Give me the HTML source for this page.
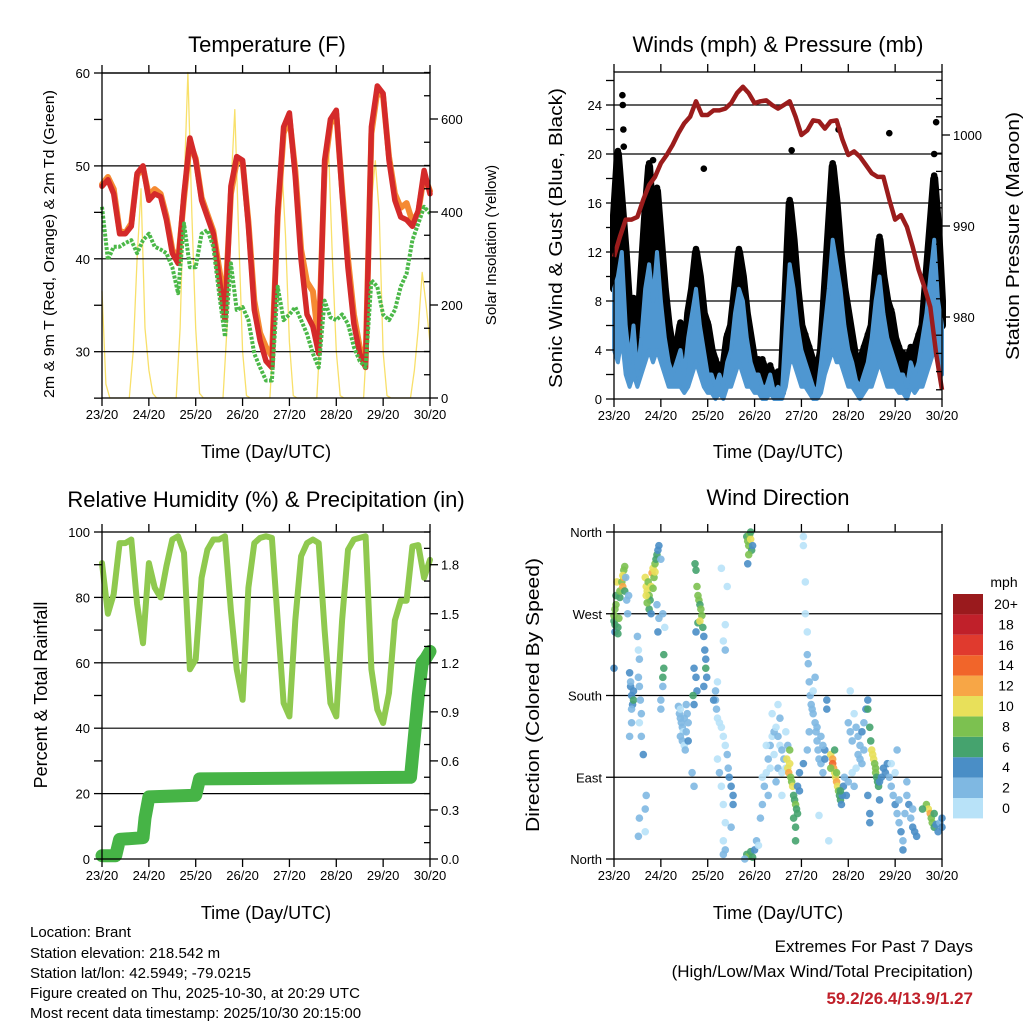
<!DOCTYPE html>
<html><head><meta charset="utf-8"><title>Weather station summary</title>
<style>
html,body{margin:0;padding:0;background:#fff;}
svg{display:block;font-family:"Liberation Sans",sans-serif;}
</style></head>
<body>
<svg id="chart" width="1024" height="1024" viewBox="0 0 1024 1024" xmlns="http://www.w3.org/2000/svg">
<rect x="0" y="0" width="1024" height="1024" fill="#fff"/>
<text x="267" y="52" font-size="22" text-anchor="middle">Temperature (F)</text>
<text x="778" y="52" font-size="22" text-anchor="middle">Winds (mph) &amp; Pressure (mb)</text>
<text x="266" y="507" font-size="22" text-anchor="middle">Relative Humidity (%) &amp; Precipitation (in)</text>
<text x="778" y="505" font-size="22" text-anchor="middle">Wind Direction</text>
<text x="266" y="458" font-size="18" text-anchor="middle">Time (Day/UTC)</text>
<text x="778" y="458" font-size="18" text-anchor="middle">Time (Day/UTC)</text>
<text x="266" y="919" font-size="18" text-anchor="middle">Time (Day/UTC)</text>
<text x="778" y="919" font-size="18" text-anchor="middle">Time (Day/UTC)</text>
<text transform="translate(54,244) rotate(-90)" font-size="14.5" text-anchor="middle" textLength="308" lengthAdjust="spacingAndGlyphs">2m &amp; 9m T (Red, Orange) &amp; 2m Td (Green)</text>
<text transform="translate(496,245) rotate(-90)" font-size="15" text-anchor="middle">Solar Insolation (Yellow)</text>
<text transform="translate(562,238) rotate(-90)" font-size="18" text-anchor="middle" textLength="300" lengthAdjust="spacingAndGlyphs">Sonic Wind &amp; Gust (Blue, Black)</text>
<text transform="translate(1019,236) rotate(-90)" font-size="18" text-anchor="middle" textLength="248" lengthAdjust="spacingAndGlyphs">Station Pressure (Maroon)</text>
<text transform="translate(47,695) rotate(-90)" font-size="18" text-anchor="middle">Percent &amp; Total Rainfall</text>
<text transform="translate(539,695) rotate(-90)" font-size="18" text-anchor="middle" textLength="274" lengthAdjust="spacingAndGlyphs">Direction (Colored By Speed)</text>
<text x="1004" y="587" font-size="14" text-anchor="middle">mph</text>
<g font-size="15">
<text x="30" y="937">Location: Brant</text>
<text x="30" y="958">Station elevation: 218.542 m</text>
<text x="30" y="978">Station lat/lon: 42.5949; -79.0215</text>
<text x="30" y="998">Figure created on Thu, 2025-10-30, at 20:29 UTC</text>
<text x="30" y="1018">Most recent data timestamp: 2025/10/30 20:15:00</text>
</g>
<text x="973" y="952" font-size="17" text-anchor="end">Extremes For Past 7 Days</text>
<text x="973" y="977" font-size="17" text-anchor="end">(High/Low/Max Wind/Total Precipitation)</text>
<text x="973" y="1004" font-size="17" font-weight="bold" fill="#c0202a" text-anchor="end">59.2/26.4/13.9/1.27</text>
</svg>
<script>
// ---------- data ----------
const dayLabels = ["23/20","24/20","25/20","26/20","27/20","28/20","29/20","30/20"];
const redTemp = [47.8,48.5,47,42.7,42.7,43.5,49.2,50,46.3,47,46.7,44.2,40.6,39.5,47,53,50.6,46.3,44.5,42.7,38,33.4,47.8,51,50.6,43.5,34.5,31.2,29,28.3,45.2,54.2,55.7,48.8,39.9,34,32.7,29.8,50.6,55,56,47,39,33,29.8,28.3,54.2,58.6,57.8,50.6,46.3,44.5,44.2,43.5,45.2,49.5,47];
const orangeTemp = [48,48.8,47.5,43,42.8,43.8,49,49.8,46.8,47.5,47,44.6,41,39.8,46.5,52.5,50.8,46.6,44.8,43,39,35,47,50.5,50.4,44,35.5,32,30.5,29.5,44.5,53.5,55.2,49.5,41,37.5,36.5,31,49.8,54.5,55.6,47.5,40,34,30.5,29,53.5,58,57.5,51,47,45.5,46,44,45,49,47.3];
const dewPoint = [45.6,39.9,41.3,41.3,41.7,42,40.6,42,42.7,41.3,41,40.6,39.1,36.3,43.8,39.1,39.1,42.7,43.1,41.3,36.3,31.6,39.5,34.5,34.8,33.4,29.8,28.3,26.9,26.9,37,33.4,34,34.8,33.4,31.9,29.8,28.3,35.5,33.7,33.4,34,33,30.5,29,28.3,37.7,37,34,33.4,34.5,37,38.4,42,43.8,45.6,44.9];
const solar = [230,30,0,0,0,0,0,0,100,300,450,150,60,10,0,0,0,0,0,0,150,450,700,400,150,10,0,0,0,0,0,0,150,450,620,350,100,5,0,0,0,0,0,0,150,400,510,350,120,5,0,0,0,0,0,0,150,420,540,300,100,5,0,0,0,0,0,0,150,420,510,400,100,5,0,0,0,0,0,0,60,150,270,200,120];
const pressure = [986.6,988.8,990.7,990.7,991,992.9,994.5,995.4,996.9,997.8,998.9,1000.2,1001.3,1002,1003.7,1002.2,1002.2,1002.7,1002.7,1002.9,1003.5,1004.6,1005.3,1004.6,1003.5,1003.7,1003.8,1003.3,1002.9,1003.3,1003.7,1002,1000,1000.5,1001.6,1001.5,1000.7,1001.5,1001.6,999.5,997.8,998.2,997.6,996.7,995.8,995.4,995.4,992.9,990.7,991.2,989.9,987.7,985.2,983.3,981.1,976,972];
const wind = [9,10,12,6,3,6,2,5,9,11,8,12,8,5,3,2,3,4,2,5,7,9,6,4,2,2,1,2,1,3,4,7,9,8,5,3,2,2,1,1,2,0.5,1,0.5,6,11,9,6,4,3,2,1,0.5,3,6,9,13,11,9,6,4,3,1.5,1,2,3,5,8,10,7,5,4,3,2,2,1,3,2,3,5,7,10,13,8,6];
const windLow = [4,3,5,2,1,2,1,2,3,4,3,4,3,2,1,1,1,1,0.5,1,2,3,2,1,0.5,0.5,0,0.5,0,1,1,2,3,2,1,1,0.5,0.5,0,0,0.5,0,0,0,1,3,3,2,1,1,0.5,0,0,0.5,2,3,4,3,3,2,1,1,0.5,0,0.5,1,1,2,3,2,1,1,1,0.5,0.5,0,1,0.5,1,1,2,3,4,3,2];
const gust = [15,20,16,12,7,8,5,10,15,19,14,17,13,9,6,4,4,6,3,7,9,12,10,7,6,4,3,2.5,2.5,5,6,9,12,10,7,5,3,3,3,2,2.5,1.5,2,2,9,16,13,9,6,5,4,3,2,4,9,14,19,16,12,9,7,5,3,3,4,5,6,10,13,10,8,7,5,4,3.5,3,4,4,5,6,10,14,18,14,8];
const gustOutlierHours = [4.3,4.5,4.8,5,20,46,91,115,141,165,164];
const gustOutlierValues = [24.8,24,22,20.6,19.5,18.8,20.3,22,21.7,22.6,20];
const humidity = [90.5,75,81,96.6,96.6,97.7,78,66,90.5,83,80,89.5,97.7,98.7,93.6,58,61,86,94.6,97.7,97.7,98.7,76,58,48.7,83,96.6,98.2,98.7,98.2,73,47.7,43.6,73,92.6,96.6,97.7,96.6,70,47.7,43.6,73,94.6,97.7,98.2,98.7,58,45.7,41.6,50.8,73,79,79,95.6,96,86,91.5];
const precipHours = [0,7,9,21,22,24,48,50,158,162,164,166,168];
const precipTotal = [0.02,0.02,0.12,0.13,0.25,0.38,0.39,0.49,0.50,1.0,1.2,1.23,1.27];
const dirHours = [
0,0,0.5,0.5,1,1,1.5,0.5,0,2,
2,2.5,3,3,4,4.5,5,5,4.5,5.5,
5.5,6,6.5,7,7.5,8,8.5,9,9.5,9,
10,10,8.5,9,8,12,12.5,13,12.5,13,
13.5,14,13,14,15,16.5,16,13,12.5,16,
16,16.5,17,17.5,18,18.5,19,19.5,20,20.5,
21,21.5,22,22.5,23,21,20,18,19,17,
16.5,24,22,23,22.5,25,26,25.5,25.5,25,
24,24,25,33,33.5,34,34.5,35,35.5,34,
35,36,37,36,37.5,36.5,38,34,37,38,
40,41,41.5,42,42.5,43,43.5,44,44.5,45,
43,42,44,45.5,46,46.5,47,47,47.5,46,
42,42.5,40.5,41,41,52,52.5,53,54,55,
56,57,58,58.5,59,60,61,61,53,54,
55,56,57,56,57,56,60,51,52,53,
56,57,58,55,57,68,68.5,69,69.5,70,
70.5,69,70,71,68.5,68,69,70,71,72,
73,74,67,75,76,77,78,79,80,81,
82,83,84,85,86,87,88,80,82,84,
86,76,78,81,84,85,88,83,86,89,
79,88.5,89,89.5,90,90.5,91,91.5,92,92.5,
93,93.5,94,92,93,93,90,94,95,95,
98,98,99,99.5,100,100.5,101,101.5,102,103,
103.5,104,104.5,105,106,107,108,108,107,102,
103,104,106,100,99,97,97,97,99,105,
110,109,109,111,112,112,112.5,113,113.5,114,
114.5,115,115.5,116,116.5,117,117.5,118,114,113,
111,116,120,121,122,123,124,125,126,127,
128,129,130,128,126,124,122,120,119,125,
127,123,121,130,131,131.5,132,132.5,133,133.5,
134,134,134.5,135,135.5,136,137,130,131,131,
136,138,139,140,141,142,143,144,145,146,
147,148,148,149,150,151,152,153,154,155,
150,142,146,153,145,144,160,161,162,162.5,
163,164,165,166,167,168,168,164,158];
const dirDegrees = [
262,268,275,258,280,290,305,250,210,255,
248,265,288,295,305,300,310,318,312,295,
322,310,285,270,290,205,190,180,170,165,
185,175,195,150,135,245,230,220,200,190,
175,160,150,135,115,70,55,45,25,30,
310,300,295,305,290,285,300,315,320,310,
325,330,335,340,345,316,298,275,270,282,
290,330,280,265,250,270,255,225,210,200,
175,165,190,168,160,155,150,145,140,135,
130,125,140,155,160,120,150,165,170,130,
95,80,325,318,300,290,285,280,275,268,
260,250,262,255,245,230,220,210,200,190,
200,185,180,170,210,175,165,155,150,145,
135,125,115,100,90,80,70,60,110,95,
80,60,40,20,10,5,35,175,185,195,
240,258,300,320,230,355,350,345,357,352,
340,335,360,345,325,5,3,8,2,10,
20,15,0,45,60,80,95,110,125,135,
140,145,135,125,120,110,100,100,115,100,
95,90,125,160,170,155,140,85,70,125,
70,110,100,95,105,90,85,80,70,65,
60,55,50,45,35,20,120,80,75,95,
270,305,225,215,195,180,170,165,160,150,
140,130,120,110,105,95,120,110,125,185,
200,145,135,140,120,105,355,345,250,48,
20,165,175,115,110,105,100,95,90,85,
80,75,70,65,60,70,80,90,95,120,
100,75,150,140,130,160,145,135,125,140,
150,165,175,120,110,100,95,85,70,115,
105,80,185,165,145,130,120,115,110,105,
100,95,90,85,80,85,90,70,50,40,
65,100,95,105,90,80,70,60,50,40,
30,20,10,50,70,60,45,35,30,25,
85,105,65,55,120,95,60,55,50,45,
40,35,38,30,40,35,45,50,55];
const dirSpeeds = [
6,8,9,7,8,6,10,5,4,6,
7,8,6,8,9,13,12,8,10,6,
8,3,2,2,2,4,5,4,5,3,
4,6,3,2,2,2,1,2,2,2,
3,2,1,2,4,3,2,2,2,1,
10,11,10,9,8,7,10,12,10,9,
8,7,6,5,4,10,8,6,5,8,
10,3,3,2,4,2,1,6,7,6,
2,2,3,2,2,2,3,2,1,2,
2,1,3,2,2,2,2,1,2,4,
2,3,6,6,8,9,8,7,9,8,
7,5,10,6,4,4,5,6,4,4,
4,5,6,5,4,3,2,1,1,0,
1,1,2,3,4,4,4,4,1,2,
1,0,1,1,2,3,3,4,3,1,
0,1,0,1,2,7,8,8,9,10,
7,8,6,5,4,6,8,7,6,4,
2,1,3,3,2,2,1,2,2,1,
2,1,2,1,2,2,1,0,1,2,
0,1,0,1,1,2,1,2,1,3,
2,11,11,12,10,9,8,10,7,6,
8,7,6,6,6,7,8,5,4,4,
1,1,2,2,2,3,2,2,3,2,
3,2,3,3,2,3,4,4,2,1,
2,2,2,2,3,4,1,1,1,1,
1,4,4,10,12,14,13,11,10,12,
10,8,7,6,5,4,4,3,9,6,
8,7,2,2,2,1,3,2,2,4,
3,4,4,2,2,1,1,2,4,2,
3,2,1,7,6,6,10,11,10,9,
8,9,6,7,6,4,5,5,4,4,
5,4,5,4,3,3,2,4,3,3,
4,3,4,2,2,4,3,4,5,4,
2,1,2,3,2,1,8,10,12,9,
8,6,4,4,3,4,5,7,6];
const speedColors = ["#b8e2f8","#7fb8e2","#4a8ec6","#45a36e","#7cc150","#e8e05a","#f7a646","#f1652a","#e03a2e","#c0202a","#9a1a1d"];
const speedLabels = ["0","2","4","6","8","10","12","14","16","18","20+"];

// ---------- helpers ----------
const NS = 'http://www.w3.org/2000/svg';
const svg = document.getElementById('chart');
function mk(tag, attrs) {
  const e = document.createElementNS(NS, tag);
  for (const k in attrs) e.setAttribute(k, attrs[k]);
  svg.appendChild(e);
  return e;
}
function addText(x, y, s, anchor, size) {
  const t = mk('text', {x: x, y: y, 'font-size': size, 'text-anchor': anchor});
  t.textContent = s;
  return t;
}
function pathFrom(xs, ys) {
  let d = '';
  for (let i = 0; i < xs.length; i++) d += (i ? 'L' : 'M') + xs[i].toFixed(1) + ',' + ys[i].toFixed(1);
  return d;
}
function hoursOf(n, step) { const a = []; for (let i = 0; i < n; i++) a.push(i * step); return a; }

const LX = h => 102 + h * 328 / 168;
const RX = h => 614 + h * 328 / 168;
const yTemp = t => 73 + (60 - t) * 9.29;
const ySolar = v => 398 - v * 0.465;
const yWind = v => 399 - v * 12.25;
const yPres = p => 135 + (1000 - p) * 9.1;
const yRH = r => 859 - r * 3.27;
const yPrecip = v => 859 - v * 163.5;
const yDir = d => 859 - d * 327 / 360;

function frame(x0, y0, x1, y1, prefix) {
  const r = mk('rect', {x: x0, y: y0, width: x1 - x0, height: y1 - y0, fill: 'none', stroke: '#000', 'stroke-width': 1.3});
  
  
  for (let d = 0; d < dayLabels.length; d++) {
    const x = x0 + d * (x1 - x0) / 7;
    const tb = mk('line', {x1: x, y1: y1, x2: x, y2: y1 + 8, stroke: '#000', 'stroke-width': 1.3});
    
    
    const tt = mk('line', {x1: x, y1: y0, x2: x, y2: y0 - 8, stroke: '#000', 'stroke-width': 1.3});
    
    
    const lb = addText(x, y1 + 21, dayLabels[d], 'middle', 13);
    
    
  }
}
function hgrid(x0, x1, y, prefix) {
  const g = mk('line', {x1: x0, y1: y, x2: x1, y2: y, stroke: '#000', 'stroke-width': 1.2});
  
  
}
function ltick(x, y, label, prefix, len) {
  const t = mk('line', {x1: x, y1: y, x2: x - (len || 8), y2: y, stroke: '#000', 'stroke-width': 1.3});
  
  
  if (label !== null) {
    const l = addText(x - 12, y + 5, label, 'end', 13);
    
    
  }
}
function rtick(x, y, label, prefix, inward) {
  const t = mk('line', {x1: x, y1: y, x2: inward ? x - 6 : x + 8, y2: y, stroke: '#000', 'stroke-width': 1.3});
  
  
  if (label !== null) {
    const l = addText(x + 11, y + 5, label, 'start', 13);
    
    
  }
}

// ---------- Panel 1: temperature ----------
{
  const sh = hoursOf(solar.length, 2);
  const sp = mk('path', {d: pathFrom(sh.map(LX), solar.map(ySolar)), fill: 'none', stroke: '#f8e06a', 'stroke-width': 1.3, 'stroke-linejoin': 'round'});
  
  
  [30, 40, 50, 60].forEach(v => hgrid(102, 430, yTemp(v), 'temperature'));
  const th = hoursOf(redTemp.length, 3);
  const op = mk('path', {d: pathFrom(th.map(LX), orangeTemp.map(yTemp)), fill: 'none', stroke: '#f58a32', 'stroke-width': 6, 'stroke-linejoin': 'round', 'stroke-linecap': 'round'});
  
  
  const rp = mk('path', {d: pathFrom(th.map(LX), redTemp.map(yTemp)), fill: 'none', stroke: '#d42a2a', 'stroke-width': 5.5, 'stroke-linejoin': 'round', 'stroke-linecap': 'round'});
  
  
  const gp = mk('path', {d: pathFrom(th.map(LX), dewPoint.map(yTemp)), fill: 'none', stroke: '#4bb848', 'stroke-width': 4, 'stroke-dasharray': '3 1.5', 'stroke-linejoin': 'round'});
  
  
  frame(102, 73, 430, 398, 'temperature');
  [25, 30, 35, 40, 45, 50, 55, 60].forEach(v => ltick(102, yTemp(v), v % 10 === 0 ? String(v) : null, 'temperature'));
  for (let v = 0; v <= 700; v += 50) rtick(430, ySolar(v), v % 200 === 0 ? String(v) : null, 'solar', v % 200 !== 0);
}

// ---------- Panel 2: winds & pressure ----------
{
  for (let v = 4; v <= 24; v += 4) hgrid(614, 942, yWind(v), 'wind');
  const wh = hoursOf(wind.length, 2);
  let d = pathFrom(wh.map(RX), gust.map(yWind));
  for (let i = wind.length - 1; i >= 0; i--) d += 'L' + RX(wh[i]).toFixed(1) + ',' + yWind(wind[i]).toFixed(1);
  const band = mk('path', {d: d + 'Z', fill: '#000', stroke: '#000', 'stroke-width': 8, 'stroke-linejoin': 'round'});
  
  
  for (let i = 0; i < gust.length; i++) {
    const c = mk('circle', {cx: RX(wh[i]), cy: yWind(gust[i]) - 3, r: 3.3, fill: '#000'});
    
    
  }
  for (let i = 0; i < gustOutlierHours.length; i++) {
    const c = mk('circle', {cx: RX(gustOutlierHours[i]), cy: yWind(gustOutlierValues[i]), r: 3.3, fill: '#000'});
    
    
  }
  let wd = pathFrom(wh.map(RX), wind.map(yWind));
  for (let i = wind.length - 1; i >= 0; i--) wd += 'L' + RX(wh[i]).toFixed(1) + ',' + yWind(windLow[i]).toFixed(1);
  const wp = mk('path', {d: wd + 'Z', fill: '#4f97d1', stroke: '#4f97d1', 'stroke-width': 4, 'stroke-linejoin': 'round'});
  
  
  const ph = hoursOf(pressure.length, 3);
  const pp = mk('path', {d: pathFrom(ph.map(RX), pressure.map(yPres)), fill: 'none', stroke: '#9b1c1c', 'stroke-width': 4.5, 'stroke-linejoin': 'round'});
  
  
  frame(614, 72, 942, 399, 'wind');
  for (let v = 0; v <= 26; v += 2) ltick(614, yWind(v), v % 4 === 0 ? String(v) : null, 'wind');
  for (let p = 972; p <= 1006; p += 2) rtick(942, yPres(p), p % 10 === 0 ? String(p) : null, 'pressure', p % 10 !== 0);
}

// ---------- Panel 3: humidity & precipitation ----------
{
  [20, 40, 60, 80].forEach(v => hgrid(102, 430, yRH(v), 'humidity'));
  const hh = hoursOf(humidity.length, 3);
  const hp = mk('path', {d: pathFrom(hh.map(LX), humidity.map(yRH)), fill: 'none', stroke: '#8fc94f', 'stroke-width': 6, 'stroke-linejoin': 'round', 'stroke-linecap': 'round'});
  
  
  const pr = mk('path', {d: pathFrom(precipHours.map(LX), precipTotal.map(yPrecip)), fill: 'none', stroke: '#46b446', 'stroke-width': 13, 'stroke-linejoin': 'round', 'stroke-linecap': 'round'});
  
  
  frame(102, 532, 430, 859, 'humidity');
  for (let v = 0; v <= 100; v += 10) ltick(102, yRH(v), v % 20 === 0 ? String(v) : null, 'humidity');
  for (let i = 0; i <= 20; i++) { const v = i / 10; rtick(430, yPrecip(v), i % 3 === 0 ? v.toFixed(1) : null, 'precip', i % 3 !== 0); }
}

// ---------- Panel 4: wind direction ----------
{
  [90, 180, 270].forEach(v => hgrid(614, 942, yDir(v), 'direction'));
  for (let i = 0; i < dirHours.length; i++) {
    const bin = Math.min(10, Math.floor(dirSpeeds[i] / 2));
    const c = mk('circle', {cx: RX(dirHours[i]), cy: yDir(dirDegrees[i]), r: 3.8, fill: speedColors[bin], 'fill-opacity': 0.9});
    
    
  }
  frame(614, 532, 942, 859, 'direction');
  const dl = ['North', 'East', 'South', 'West', 'North'];
  for (let i = 0; i < 5; i++) ltick(614, yDir(i * 90), dl[i], 'direction');
  for (let i = 0; i < speedColors.length; i++) {
    const y = 798 - i * 20.4;
    const r = mk('rect', {x: 953, y: y, width: 30, height: 20.4, fill: speedColors[i]});
    
    
    const t = addText(1006, y + 15, speedLabels[i], 'middle', 14);
    
    
  }
}
</script>
</body></html>
